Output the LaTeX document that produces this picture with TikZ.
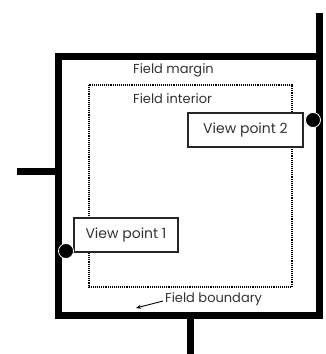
\documentclass[tikz,border=0pt]{standalone}
\usepackage{fontspec}
\setmainfont{Poppins}
\usetikzlibrary{arrows.meta}
\begin{document}
\begin{tikzpicture}[x=1pt,y=-1pt,
  frame/.style={line width=7pt,miter limit=10},
  lbl/.style={font=\fontsize{13}{15}\selectfont,text=black!80,inner sep=0pt},
  vpbox/.style={draw=black!85,line width=1.2pt,fill=white,minimum height=34pt,inner sep=0pt,font=\fontsize{14}{16}\selectfont,text=black!80},
  vpdot/.style={circle,fill=black,draw=white,line width=0.8pt,minimum size=15pt,inner sep=0pt},
  interior/.style={densely dotted,line width=1.1pt}]
\useasboundingbox (0,0) rectangle (326,354);
% outer frame
\draw[frame] (58.5,56) rectangle (319.5,315.5);
\coordinate (rtop) at (319.5,13);
\coordinate (rbot) at (319.5,56);
\draw[frame] (rtop) -- (rbot);
\coordinate (lstub1) at (17,171);
\coordinate (lstub2) at (58.5,171);
\draw[frame] (lstub1) -- (lstub2);
\coordinate (bstub1) at (190,315.5);
\coordinate (bstub2) at (190,354);
\draw[frame] (bstub1) -- (bstub2);
% interior
\draw[interior] (89,85) rectangle (292,287);
\node[lbl,anchor=west] (margin) at (133,70) {Field margin};
\node[lbl,anchor=west] (inter) at (133,99) {Field interior};
% viewpoints
\node[vpbox,minimum width=115pt] (vp2) at (245.5,130) {View point 2};
\node[vpbox,minimum width=104pt] (vp1) at (126,235) {View point 1};
\node[vpdot] (d2) at (313,120) {};
\node[vpdot] (d1) at (66,251) {};
% boundary label
\node[lbl,anchor=west] (fb) at (165,299) {Field boundary};
\coordinate (fbtip) at (136,308);
\draw[-{Stealth[length=5pt,width=4pt]},line width=0.9pt] (fb.west) ++(-2,2) -- (fbtip);
\end{tikzpicture}
\end{document}
